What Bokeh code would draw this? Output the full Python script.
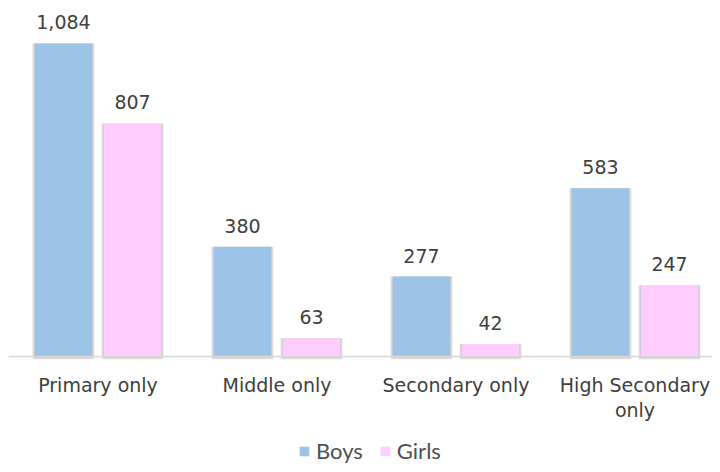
from bokeh.plotting import figure
from bokeh.models import Range1d, FixedTicker, Legend, LegendItem, ColumnDataSource, LinearAxis
from bokeh.core.properties import value
from bokeh.embed import file_html
from bokeh.resources import INLINE

categories = ["Primary only", "Middle only", "Secondary only", "High Secondary\nonly"]
series_names = ["Boys", "Girls"]
boys = [1084, 380, 277, 583]
girls = [807, 63, 42, 247]
colors = ["#9DC3E6", "#FFCCFF"]

TEXT = "#404040"
pos = [i + 1 for i in range(len(categories))]
offset = 0.193
bar_w = 0.32
FW = 704
PX_PER_UNIT = 348 / 1205

p = figure(width=712, height=464, output_backend="svg", toolbar_location=None,
           x_range=Range1d(0.5, 0.5 + FW / 179),
           y_range=Range1d(-108 / PX_PER_UNIT, 1205),
           x_axis_location=None, y_axis_location=None,
           min_border_left=8, min_border_right=0, min_border_top=8, min_border_bottom=0)
p.outline_line_color = None
p.background_fill_color = "white"
p.border_fill_color = "white"
p.xgrid.visible = False
p.ygrid.visible = False

renderers = []
for k, (name, vals, col) in enumerate(zip(series_names, [boys, girls], colors)):
    sgn = -1 if k == 0 else 1
    xs = [x + sgn * offset for x in pos]
    src = ColumnDataSource(dict(x=xs, top=vals, lab=[f"{v:,}" for v in vals]))
    # soft shadow
    p.vbar(x="x", top="top", bottom=-3 / PX_PER_UNIT, width=bar_w + 0.03, source=src,
           fill_color="#000000", fill_alpha=0.07, line_color=None)
    p.vbar(x="x", top="top", bottom=-2 / PX_PER_UNIT, width=bar_w + 0.016, source=src,
           fill_color="#000000", fill_alpha=0.13, line_color=None)
    r = p.vbar(x="x", top="top", bottom=0, width=bar_w, source=src,
               fill_color=col, line_color=None)
    renderers.append((name, r))
    p.text(x="x", y="top", text="lab", source=src, y_offset=-21,
           text_align="center", text_baseline="alphabetic",
           text_font=value("DejaVu Sans"), text_font_size="19px", text_color=TEXT)

xaxis = LinearAxis(fixed_location=0)
xaxis.ticker = FixedTicker(ticks=pos)
xaxis.major_label_overrides = {x: c for x, c in zip(pos, categories)}
xaxis.axis_line_color = "#D9D9D9"
xaxis.axis_line_width = 1.5
xaxis.major_tick_line_color = None
xaxis.minor_tick_line_color = None
xaxis.major_tick_out = 0
xaxis.major_tick_in = 0
xaxis.major_label_standoff = 17
xaxis.major_label_text_font = "DejaVu Sans"
xaxis.major_label_text_font_size = "19px"
xaxis.major_label_text_color = TEXT
xaxis.major_label_text_line_height = 1.15
p.add_layout(xaxis, "below")

legend = Legend(items=[LegendItem(label=n, renderers=[r]) for n, r in renderers],
                orientation="horizontal", location=(290, 0),
                glyph_width=12, glyph_height=12, label_standoff=6, spacing=16,
                label_text_font="Lato", label_text_font_size="22px", label_text_color="#505050",
                label_height=16,
                border_line_color=None, background_fill_alpha=0, padding=0, margin=0)
p.add_layout(legend, "center")

open("out.html", "w").write(file_html(p, INLINE))
